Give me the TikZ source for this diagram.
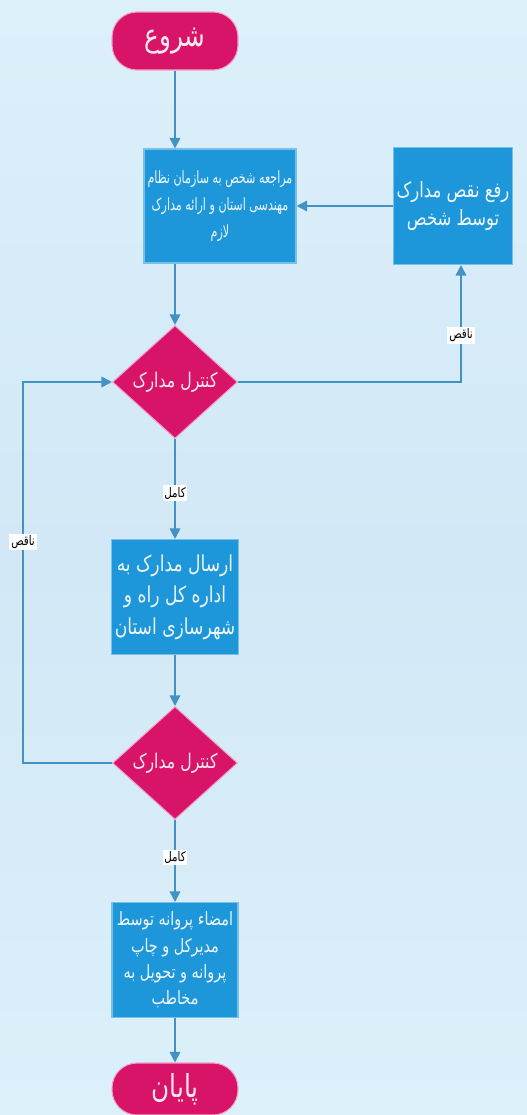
\documentclass[tikz,border=0pt]{standalone}
\usepackage{fontspec}
\newfontfamily\arabicfont[Script=Arabic,FakeStretch=0.78]{DejaVu Sans}
\newfontfamily\arabicnarrow[Script=Arabic,FakeStretch=0.66]{DejaVu Sans}
\TeXXeTstate=1
\usepackage{tikz}
\usetikzlibrary{arrows.meta}
\usetikzlibrary{shapes}
\usetikzlibrary{positioning}
\usetikzlibrary{calc}
\definecolor{BgColor}{RGB}{220,240,250}
\definecolor{BgMid}{RGB}{210,232,246}
\definecolor{PinkColor}{RGB}{216,20,104}
\definecolor{BoxColor}{RGB}{30,150,218}
\definecolor{LineColor}{RGB}{66,146,196}
\newcommand{\fa}[1]{{\arabicfont\beginR #1\endR}}
\newcommand{\fanarrow}[1]{{\arabicnarrow\beginR #1\endR}}
\tikzstyle{arrow} = [line width=0.9pt, LineColor, -{Triangle[width=6pt,length=6pt]}]
\tikzstyle{terminal} = [draw=PinkColor!40, line width=0.6pt, fill=PinkColor, rounded corners=0.5cm, text=white!90!PinkColor, font=\fontsize{18}{20}\selectfont, minimum width=2.52cm]
\tikzstyle{process} = [draw=BoxColor!60, line width=0.6pt, fill=BoxColor, text=white!92!BoxColor, align=center, inner sep=2pt]
\tikzstyle{decision} = [diamond, draw=PinkColor!40, line width=0.6pt, fill=PinkColor, text=white!90!PinkColor, aspect=1.1, inner sep=-8pt, minimum width=2.5cm, minimum height=2.26cm, font=\fontsize{11.5}{13}\selectfont]
\tikzstyle{answer} = [fill=white, text=black, inner sep=1pt, font=\fontsize{7.5}{8}\selectfont]

\begin{document}
\begin{tikzpicture}[x=0.02cm, y=-0.02cm]
    % background
    \useasboundingbox (0,0) rectangle (527,1115);
    \shade[top color=BgColor, bottom color=BgColor, middle color=BgMid] (0,0) rectangle (527,1115);

    % shapes
    \node[terminal, minimum height=1.16cm] (start) at (175,41) {\fa{شروع}};
    \node[process, minimum width=3.02cm, minimum height=2.28cm, font=\fontsize{9.6}{15.5}\selectfont] (request) at (220,206)
        {\fanarrow{مراجعه شخص به سازمان نظام}\\ \fanarrow{مهندسی استان و ارائه مدارک}\\ \fanarrow{لازم}};
    \node[process, minimum width=2.24cm, minimum height=2.34cm, font=\fontsize{12}{16}\selectfont] (fix) at (453,206)
        {\fa{رفع نقص مدارک}\\ \fa{توسط شخص}};
    \node[decision] (check1) at (175,382) {\fa{کنترل مدارک}};
    \node[process, minimum width=2.52cm, minimum height=2.3cm, font=\fontsize{12.5}{18}\selectfont] (send) at (175,597)
        {\fa{ارسال مدارک به}\\ \fa{اداره کل راه و}\\ \fa{شهرسازی استان}};
    \node[decision] (check2) at (175,763) {\fa{کنترل مدارک}};
    \node[process, minimum width=2.52cm, minimum height=2.3cm, font=\fontsize{10.5}{15}\selectfont] (sign) at (175,960)
        {\fa{امضاء پروانه توسط}\\ \fa{مدیرکل و چاپ}\\ \fa{پروانه و تحویل به}\\ \fa{مخاطب}};
    \node[terminal, minimum height=1.04cm] (finish) at (175,1089) {\fa{پایان}};

    % connectors
    \coordinate (loop) at (23,763);
    \draw[arrow] (start) -- (start |- request.north);
    \draw[arrow] (request.south -| check1.north) -- (check1.north);
    \draw[arrow] (fix.west) -- (request.east);
    \draw[arrow] (check1.east) -| node[answer, pos=0.7] {\fa{ناقص}} ([xshift=0.16cm]fix.south);
    \draw[arrow] (check1.south) -- node[answer, pos=0.54] {\fa{کامل}} (send.north);
    \draw[arrow] (send.south) -- (check2.north);
    \draw[arrow] (check2.west) -- (loop) |- node[answer, pos=0.29] {\fa{ناقص}} (check1.west);
    \draw[arrow] (check2.south) -- node[answer, pos=0.46] {\fa{کامل}} (sign.north);
    \draw[arrow] (sign.south) -- (finish.north);
\end{tikzpicture}
\end{document}
